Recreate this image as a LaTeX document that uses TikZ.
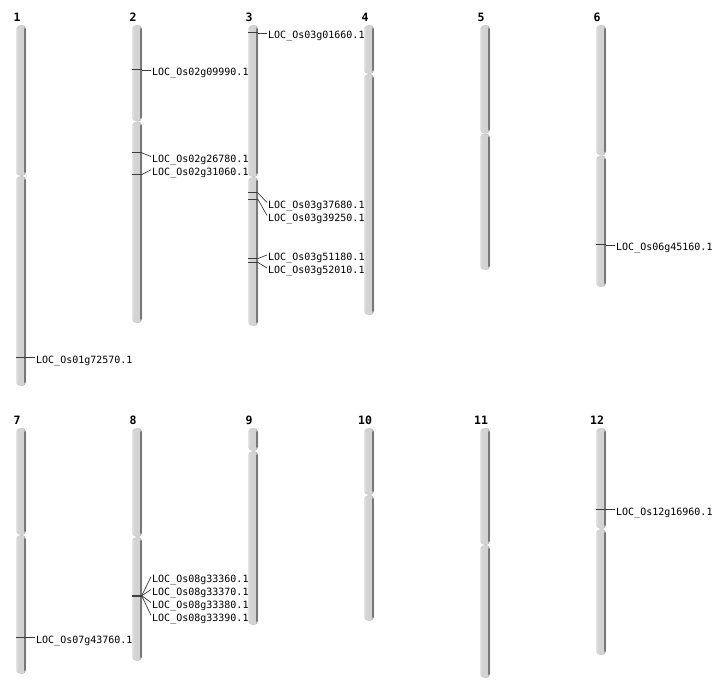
\documentclass[tikz,border=0pt]{standalone}
\usepackage{fontspec}
\newfontfamily\labfont{DejaVu Sans Mono}
\usetikzlibrary{fit}
\definecolor{armgray}{HTML}{D3D3D3}
\definecolor{armshadow}{HTML}{787878}
\definecolor{armlight}{HTML}{E4E4E4}
\definecolor{mkgray}{HTML}{3C3C3C}
\tikzset{
  arm/.style={rectangle, rounded corners=4.5pt, inner sep=0pt, minimum width=10pt, fill=armgray,
    path picture={
      \fill[armshadow] ([xshift=-2pt]path picture bounding box.north east) rectangle (path picture bounding box.south east);
      \fill[armlight] (path picture bounding box.north west) rectangle ([xshift=1.5pt]path picture bounding box.south west);}},
  chrtitle/.style={font=\labfont\bfseries\fontsize{11.5}{12}\selectfont, inner sep=0pt},
  lab/.style={font=\labfont\fontsize{10}{12}\selectfont, inner sep=1pt, anchor=base west},
  mk/.style={draw=mkgray, line width=1pt},
  conn/.style={draw=mkgray, line width=0.7pt},
}
% #1 name, #2 x centre, #3 top, #4 centromere, #5 bottom, #6 title
\newcommand\chrom[6]{%
  \node[arm, fit={(#2,#3) (#2,#4)}] (#1p) {};
  \node[arm, fit={(#2,#4) (#2,#5)}] (#1q) {};
  \node[chrtitle] (#1t) at ({#2-4},{#3-8}) {#6};}
% #1 name, #2 x centre, #3 marker y, #4 label baseline, #5 text
\newcommand\gene[5]{%
  \coordinate (#1a) at ({#2-5},#3);
  \coordinate (#1b) at ({#2+5},#3);
  \node[lab] (#1) at ({#2+14},#4) {#5};
  \draw[mk] (#1a) -- (#1b);
  \draw[conn] (#1b) -- ([yshift=6pt]#1.base west);}
\begin{document}
\begin{tikzpicture}[x=1pt,y=-1pt]
\useasboundingbox (0,0) rectangle (712,700);
% row 1
\chrom{c1}{21}{25}{176}{386}{1}
\chrom{c2}{137}{25}{121.5}{323}{2}
\chrom{c3}{253}{25}{177}{326}{3}
\chrom{c4}{369}{25}{74}{315}{4}
\chrom{c5}{485}{25}{133.5}{270}{5}
\chrom{c6}{601}{25}{155.5}{287}{6}
% row 2
\chrom{c7}{21}{428}{535}{674}{7}
\chrom{c8}{137}{428}{537}{661}{8}
\chrom{c9}{253}{428}{451}{625}{9}
\chrom{c10}{369}{428}{495}{621}{10}
\chrom{c11}{485}{428}{545}{678}{11}
\chrom{c12}{601}{428}{529}{655}{12}
% genes
\gene{ga}{21}{357.5}{363.5}{LOC\_Os01g72570.1}
\gene{gb}{137}{70}{76}{LOC\_Os02g09990.1}
\gene{gc}{137}{153}{162.5}{LOC\_Os02g26780.1}
\gene{gd}{137}{174.5}{175.7}{LOC\_Os02g31060.1}
\gene{ge}{253}{33}{39}{LOC\_Os03g01660.1}
\gene{gf}{253}{193}{208.5}{LOC\_Os03g37680.1}
\gene{gg}{253}{199.5}{221.5}{LOC\_Os03g39250.1}
\gene{gh}{253}{258.5}{261}{LOC\_Os03g51180.1}
\gene{gi}{253}{262.5}{274}{LOC\_Os03g52010.1}
\gene{gj}{601}{245}{251}{LOC\_Os06g45160.1}
\gene{gk}{21}{637}{643}{LOC\_Os07g43760.1}
\gene{gl}{137}{595.2}{582.7}{LOC\_Os08g33360.1}
\gene{gm}{137}{595.6}{595.5}{LOC\_Os08g33370.1}
\gene{gn}{137}{596.0}{608.5}{LOC\_Os08g33380.1}
\gene{go}{137}{596.4}{621.3}{LOC\_Os08g33390.1}
\gene{gp}{601}{509.5}{515.5}{LOC\_Os12g16960.1}
\end{tikzpicture}
\end{document}
